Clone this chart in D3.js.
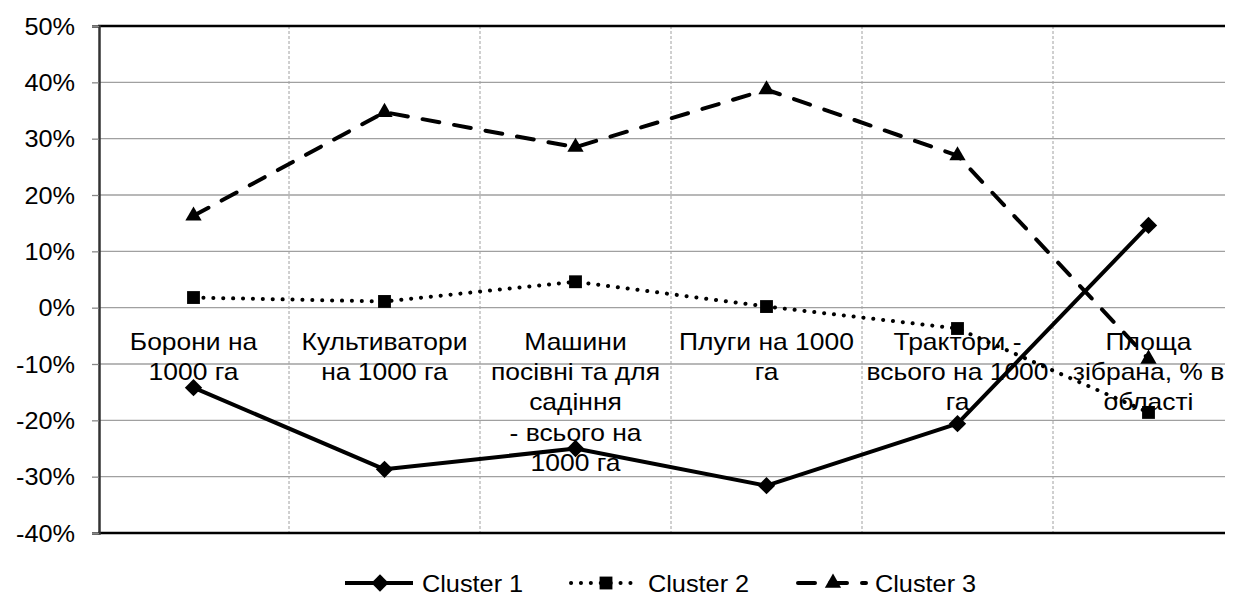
<!DOCTYPE html>
<html lang="uk">
<head>
<meta charset="UTF-8">
<title>Clusters</title>
<script src="https://d3js.org/d3.v7.min.js"></script>
<style>
  body { margin: 0; background: #fff; }
  svg text { font-family: "Liberation Sans", Arial, sans-serif; fill: #000; }
</style>
</head>
<body>
<div id="chart"></div>
<script>
// categories, each split into the lines shown on the chart
const categories = [
  ["Борони на", "1000 га"],
  ["Культиватори", "на 1000 га"],
  ["Машини", "посівні та для", "садіння", "- всього на", "1000 га"],
  ["Плуги на 1000", "га"],
  ["Трактори -", "всього на 1000", "га"],
  ["Площа", "зібрана, % в", "області"]
];
const cluster1 = [-0.142, -0.287, -0.250, -0.316, -0.206, 0.146];
const cluster2 = [0.018, 0.011, 0.046, 0.002, -0.037, -0.186];
const cluster3 = [0.163, 0.347, 0.285, 0.387, 0.270, -0.091];
const seriesNames = ["Cluster 1", "Cluster 2", "Cluster 3"];
const yTicks = [0.5, 0.4, 0.3, 0.2, 0.1, 0, -0.1, -0.2, -0.3, -0.4];

const W = 1235, H = 595;
const pLeft = 98, pRight = 1244, pTop = 26, pBottom = 533, visRight = 1225;
const fontSize = "23px";

const svg = d3.select("#chart").append("svg")
  .attr("width", W).attr("height", H);

const x = d3.scaleBand().domain(d3.range(categories.length)).range([pLeft, pRight]);
const y = d3.scaleLinear().domain([-0.4, 0.5]).range([pBottom, pTop]);

// horizontal grid
svg.append("g").selectAll("line").data(yTicks.filter(d => d !== 0.5 && d !== -0.4)).enter()
  .append("line")
  .attr("x1", pLeft).attr("x2", visRight)
  .attr("y1", d => y(d)).attr("y2", d => y(d))
  .attr("stroke", "#a0a0a0").attr("stroke-width", 1.3);

// vertical dashed grid
svg.append("g").selectAll("line").data(d3.range(1, categories.length)).enter()
  .append("line")
  .attr("x1", d => x(d)).attr("x2", d => x(d))
  .attr("y1", pTop).attr("y2", pBottom)
  .attr("stroke", "#a0a0a0").attr("stroke-width", 1)
  .attr("stroke-dasharray", "3 2");

// top and bottom frame
svg.append("line").attr("x1", pLeft).attr("x2", visRight).attr("y1", pTop).attr("y2", pTop)
  .attr("stroke", "#000").attr("stroke-width", 2.5);
svg.append("line").attr("x1", pLeft).attr("x2", visRight).attr("y1", pBottom).attr("y2", pBottom)
  .attr("stroke", "#000").attr("stroke-width", 2.5);

// y axis
const yAxis = svg.append("g")
  .attr("transform", "translate(" + (pLeft + 1) + ",0)")
  .call(d3.axisLeft(y).tickValues(yTicks).tickSize(7)
    .tickFormat(d => Math.round(d * 100) + "%"));
yAxis.select(".domain").attr("stroke", "#333").attr("stroke-width", 2.5);
yAxis.selectAll(".tick line").attr("stroke", "#888").attr("stroke-width", 1.3);
yAxis.selectAll(".tick text")
  .attr("x", 0).attr("dy", "0.36em")
  .attr("transform", "translate(-24,0) scale(1.1,1)")
  .style("font-size", fontSize).style("font-family", "'Liberation Sans', Arial, sans-serif")
  .attr("fill", "#000");

// category labels (inside plot, under 0% line)
const catG = svg.append("g");
categories.forEach((lines, i) => {
  const t = catG.append("text")
    .attr("text-anchor", "middle")
    .attr("transform", "translate(" + (x(i) + x.bandwidth() / 2) + ",0) scale(1.15,1)")
    .style("font-size", fontSize);
  lines.forEach((ln, j) => {
    t.append("tspan")
      .attr("x", 0)
      .attr("y", y(0) + 42 + j * 30.3)
      .text(ln);
  });
});

const cx = i => x(i) + x.bandwidth() / 2;
const line = d3.line().x((d, i) => cx(i)).y(d => y(d));

const styles = [
  { data: cluster1, dash: null, cap: "butt", shape: d3.symbolSquare, size: 150, rot: 45 },
  { data: cluster2, dash: "0.1 9.8", cap: "round", shape: d3.symbolSquare, size: 165, rot: 0 },
  { data: cluster3, dash: "17 15", cap: "round", shape: d3.symbolTriangle, size: 115, rot: 0 }
];

styles.forEach(s => {
  svg.append("path").datum(s.data)
    .attr("d", line)
    .attr("fill", "none").attr("stroke", "#000")
    .attr("stroke-width", 4)
    .attr("stroke-linecap", s.cap)
    .attr("stroke-linejoin", "round")
    .attr("stroke-dasharray", s.dash);
  svg.append("g").selectAll("path").data(s.data).enter()
    .append("path")
    .attr("d", d3.symbol().type(s.shape).size(s.size))
    .attr("transform", (d, i) => "translate(" + cx(i) + "," + y(d) + ") rotate(" + s.rot + ")")
    .attr("fill", "#000");
});

// legend
const legendY = 583;
const legendX = [345, 571, 798];
styles.forEach((s, k) => {
  const g = svg.append("g").attr("transform", "translate(" + legendX[k] + "," + legendY + ")");
  g.append("line").attr("x1", 0).attr("x2", 68).attr("y1", 0).attr("y2", 0)
    .attr("stroke", "#000").attr("stroke-width", 4)
    .attr("stroke-linecap", s.cap)
    .attr("stroke-dasharray", s.dash);
  g.append("path").attr("d", d3.symbol().type(s.shape).size(s.size))
    .attr("transform", "translate(35,0) rotate(" + s.rot + ")").attr("fill", "#000");
  g.append("text")
    .attr("transform", "translate(77,8.5) scale(1.1,1)")
    .style("font-size", fontSize).text(seriesNames[k]);
});
</script>
</body>
</html>
